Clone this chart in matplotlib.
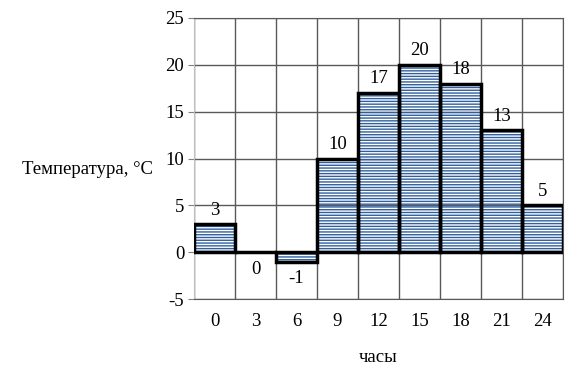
import matplotlib.pyplot as plt
import numpy as np

plt.rcParams['font.family'] = ['Liberation Serif', 'DejaVu Serif']
plt.rcParams['hatch.linewidth'] = 1.0
plt.rcParams['axes.unicode_minus'] = False

hours = ['0', '3', '6', '9', '12', '15', '18', '21', '24']
temps = [3, 0, -1, 10, 17, 20, 18, 13, 5]
yticks = [-5, 0, 5, 10, 15, 20, 25]

fs = 13.5
fig = plt.figure(figsize=(5.73, 3.86), dpi=100)
ax = fig.add_axes([194 / 573, 1 - 299 / 386, 369 / 573, 281 / 386])

x = np.arange(len(hours))
# hatch fill (blue lines), then thick black outline on top
ax.bar(x, temps, width=1.0, facecolor='none', edgecolor='#2f5f9e',
       hatch='------', linewidth=0, zorder=2)
ax.bar(x, temps, width=1.0, fill=False, edgecolor='black', linewidth=2.5, zorder=3)

for xi, v in zip(x, temps):
    if v > 0:
        ax.annotate(str(v), (xi, v), xytext=(0, 4), textcoords='offset points',
                    ha='center', va='bottom', fontsize=fs)
    else:
        ax.annotate(str(v), (xi, v), xytext=(0, -6), textcoords='offset points',
                    ha='center', va='top', fontsize=fs)

ax.set_xlim(-0.5, len(hours) - 0.5)
ax.set_ylim(-5, 25)
ax.set_yticks(yticks)
ax.set_xticks(x)
ax.set_xticklabels(hours, fontsize=fs)
ax.tick_params(axis='x', length=0, pad=10)
ax.tick_params(axis='y', length=4, color='#808080', labelsize=fs, pad=3)

ax.set_xticks(np.arange(len(hours) + 1) - 0.5, minor=True)
ax.tick_params(axis='x', which='minor', length=0)
ax.grid(True, which='minor', axis='x', color='#595959', linewidth=1.0, zorder=0)
ax.grid(True, which='major', axis='y', color='#595959', linewidth=1.0, zorder=0)
ax.set_axisbelow(True)

for s in ['top', 'right']:
    ax.spines[s].set_color('#595959')
ax.spines['bottom'].set_color('#595959')
ax.spines['left'].set_color('#bfbfbf')

ax.set_xlabel('часы', fontsize=fs, labelpad=14)
fig.text(87 / 573, 1 - 170 / 386, 'Температура, °C', ha='center', va='center', fontsize=fs)

fig.savefig('out.png', dpi=100)
